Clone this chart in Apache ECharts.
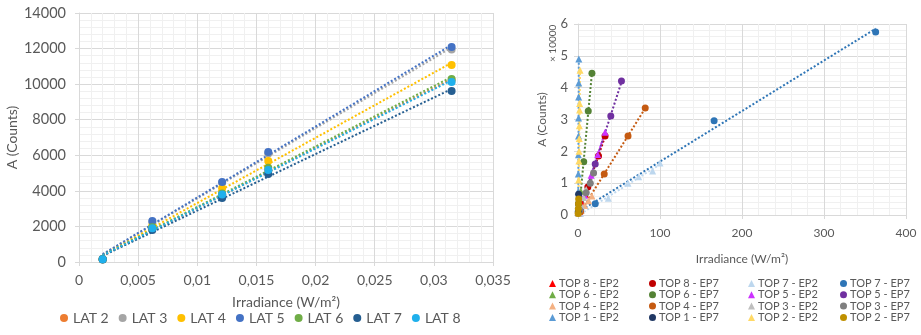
<!DOCTYPE html>
<html>
<head>
<meta charset="UTF-8">
<title>Irradiance vs counts</title>
<script src="https://cdn.jsdelivr.net/npm/echarts@6/dist/echarts.min.js"></script>
<style>
  html, body { margin: 0; padding: 0; background: #fff; }
  #main { width: 921px; height: 335px; }
</style>
</head>
<body>
<div id="main"></div>
<script>
// ---- left chart data (LAT sensors) ----
var latIrr = [0.002, 0.0062, 0.0121, 0.016, 0.0315];
var latNames = ['LAT 2', 'LAT 3', 'LAT 4', 'LAT 5', 'LAT 6', 'LAT 7', 'LAT 8'];
var latColors = ['#ed7d31', '#a5a5a5', '#ffc000', '#4472c4', '#70ad47', '#255e91', '#1fb0ec'];
var lat2 = [150, 1900, 3800, 5150, 10200];
var lat3 = [160, 2250, 4450, 6100, 11950];
var lat4 = [150, 2050, 4150, 5680, 11080];
var lat5 = [170, 2300, 4500, 6185, 12090];
var lat6 = [150, 1950, 3850, 5300, 10290];
var lat7 = [140, 1800, 3600, 4950, 9620];
var lat8 = [150, 1900, 3800, 5170, 10120];
var latValues = [lat2, lat3, lat4, lat5, lat6, lat7, lat8];

// ---- right chart data (TOP sensors), x in W/m2, y in counts x 10000 ----
var top8ep2 = [[2, 0.1], [5, 0.35], [9, 0.65]];
var top8ep7 = [[2, 0.15], [12, 0.88], [25, 1.85], [33, 2.48]];
var top7ep2 = [[3, 0.05], [37, 0.53], [61, 1.0], [74, 1.2], [91, 1.38], [100, 1.63]];
var top7ep7 = [[1, 0.05], [21, 0.35], [166, 2.96], [363, 5.75]];
var top6ep2 = [[0.5, 0.1], [1.5, 0.35], [2.5, 0.6], [3.5, 0.75]];
var top6ep7 = [[1, 0.1], [7, 1.67], [12.5, 3.27], [17, 4.45]];
var top5ep2 = [[1, 0.08], [8, 0.62], [16, 1.25], [24, 1.9], [33, 2.6]];
var top5ep7 = [[2, 0.15], [21, 1.6], [40, 3.11], [53, 4.21]];
var top4ep2 = [[1, 0.05], [4, 0.15], [8, 0.3], [13, 0.45], [17, 0.6]];
var top4ep7 = [[3, 0.1], [32, 1.29], [61, 2.48], [82, 3.36]];
var top3ep2 = [[1, 0.05], [4, 0.3], [7, 0.55], [10, 0.8]];
var top3ep7 = [[2, 0.15], [10, 0.7], [15, 1.0], [19, 1.32]];
var top1ep2 = [[0.2, 0.3], [0.3, 0.75], [0.4, 1.29], [0.5, 1.89], [0.6, 2.48], [0.7, 3.05], [0.8, 3.71], [0.9, 4.15], [1.0, 4.9]];
var top1ep7 = [[0.3, 0.1], [0.6, 0.35], [0.8, 0.65]];
var top2ep2 = [[0.5, 0.3], [0.8, 1.1], [1.1, 1.7], [1.3, 2.0], [1.5, 2.4], [1.7, 2.8], [1.9, 3.3], [2.0, 3.5], [2.5, 4.55]];
var top2ep7 = [[0.2, 0.05], [0.4, 0.2], [0.6, 0.35], [0.8, 0.5]];

var topSeries = [
  { name: 'TOP 8 - EP2', data: top8ep2, color: '#ff0000', shape: 'triangle' },
  { name: 'TOP 8 - EP7', data: top8ep7, color: '#c00000', shape: 'circle' },
  { name: 'TOP 7 - EP2', data: top7ep2, color: '#bdd7ee', shape: 'triangle' },
  { name: 'TOP 7 - EP7', data: top7ep7, color: '#2e75b6', shape: 'circle' },
  { name: 'TOP 6 - EP2', data: top6ep2, color: '#70ad47', shape: 'triangle' },
  { name: 'TOP 6 - EP7', data: top6ep7, color: '#548235', shape: 'circle' },
  { name: 'TOP 5 - EP2', data: top5ep2, color: '#cc33ff', shape: 'triangle' },
  { name: 'TOP 5 - EP7', data: top5ep7, color: '#7030a0', shape: 'circle' },
  { name: 'TOP 4 - EP2', data: top4ep2, color: '#f4b183', shape: 'triangle' },
  { name: 'TOP 4 - EP7', data: top4ep7, color: '#c55a11', shape: 'circle' },
  { name: 'TOP 3 - EP2', data: top3ep2, color: '#bfbfbf', shape: 'triangle' },
  { name: 'TOP 3 - EP7', data: top3ep7, color: '#7f7f7f', shape: 'circle' },
  { name: 'TOP 1 - EP2', data: top1ep2, color: '#5b9bd5', shape: 'triangle' },
  { name: 'TOP 1 - EP7', data: top1ep7, color: '#203864', shape: 'circle' },
  { name: 'TOP 2 - EP2', data: top2ep2, color: '#ffd966', shape: 'triangle' },
  { name: 'TOP 2 - EP7', data: top2ep7, color: '#bf9000', shape: 'circle' }
];

var FONT = 'Lato';
var TXT = '#595959';

// linear trendline (least squares) over the data range
function trend(pts) {
  var n = pts.length, sx = 0, sy = 0, sxx = 0, sxy = 0, xmin = Infinity, xmax = -Infinity;
  pts.forEach(function (p) {
    sx += p[0]; sy += p[1]; sxx += p[0] * p[0]; sxy += p[0] * p[1];
    xmin = Math.min(xmin, p[0]); xmax = Math.max(xmax, p[0]);
  });
  var b = (n * sxy - sx * sy) / (n * sxx - sx * sx);
  var a = (sy - b * sx) / n;
  return [[xmin, a + b * xmin], [xmax, a + b * xmax]];
}

function valueAxis(grid, opt) {
  var ax = {
    type: 'value',
    gridIndex: grid,
    axisLine: { show: true, lineStyle: { color: '#d9d9d9' } },
    axisTick: { show: true, length: 4, lineStyle: { color: '#d9d9d9' } },
    splitLine: { show: true, lineStyle: { color: '#d9d9d9', width: 1 } },
    minorTick: { show: false, splitNumber: 5 },
    minorSplitLine: { show: true, lineStyle: { color: '#f0f0f0', width: 1 } },
    axisLabel: { color: TXT, fontFamily: FONT },
    nameLocation: 'middle',
    nameTextStyle: { color: TXT, fontFamily: FONT }
  };
  for (var k in opt) ax[k] = opt[k];
  return ax;
}

var series = [];
latNames.forEach(function (nm, i) {
  var pts = latIrr.map(function (x, j) { return [x, latValues[i][j]]; });
  series.push({
    name: nm + ' trend', type: 'line', xAxisIndex: 0, yAxisIndex: 0,
    data: trend(pts), symbol: 'none', silent: true, z: 1,
    lineStyle: { color: latColors[i], width: 2, type: [2, 2] }
  });
});
latNames.forEach(function (nm, i) {
  series.push({
    name: nm, type: 'scatter', xAxisIndex: 0, yAxisIndex: 0,
    data: latIrr.map(function (x, j) { return [x, latValues[i][j]]; }),
    symbolSize: 8, itemStyle: { color: latColors[i], opacity: 1 }, z: 3
  });
});
topSeries.forEach(function (s) {
  series.push({
    name: s.name + ' trend', type: 'line', xAxisIndex: 1, yAxisIndex: 1,
    data: trend(s.data), symbol: 'none', silent: true, z: 1,
    lineStyle: { color: s.color, width: 2, type: [2, 2] }
  });
});
topSeries.forEach(function (s) {
  series.push({
    name: s.name, type: 'scatter', xAxisIndex: 1, yAxisIndex: 1,
    data: s.data, symbol: s.shape, symbolSize: 7,
    itemStyle: { color: s.color, opacity: 1 }, z: 3
  });
});

// right legend: 4 columns, row-major order
var colLefts = [549, 649, 748, 840];
var rightLegends = colLefts.map(function (lx, c) {
  var items = [];
  for (var r = 0; r < 4; r++) {
    var s = topSeries[r * 4 + c];
    items.push({ name: s.name, icon: s.shape });
  }
  return {
    orient: 'vertical', left: lx, top: 278, height: 56, padding: 0,
    itemWidth: 7, itemHeight: 7, itemGap: 0.3,
    textStyle: { color: TXT, fontFamily: FONT, fontSize: 11, lineHeight: 11, padding: [0, 0, 0, -2] },
    data: items, selectedMode: false
  };
});

var chart = echarts.init(document.getElementById('main'));
chart.setOption({
  animation: false,
  backgroundColor: '#fff',
  textStyle: { fontFamily: FONT },
  grid: [
    { left: 79, top: 13, width: 414, height: 249 },
    { left: 578, top: 24, width: 328, height: 191 }
  ],
  xAxis: [
    valueAxis(0, {
      min: 0, max: 0.035, interval: 0.005,
      name: 'Irradiance (W/m²)', nameGap: 33, nameTextStyle: { color: TXT, fontFamily: FONT, fontSize: 14 },
      axisLabel: {
        color: TXT, fontFamily: FONT, fontSize: 14, margin: 11,
        formatter: function (v) { return String(+v.toFixed(3)).replace('.', ','); }
      }
    }),
    valueAxis(1, {
      min: 0, max: 400, interval: 100,
      name: 'Irradiance (W/m²)', nameGap: 38, nameTextStyle: { color: TXT, fontFamily: FONT, fontSize: 12 },
      axisLabel: { color: TXT, fontFamily: FONT, fontSize: 12, margin: 12 }
    })
  ],
  yAxis: [
    valueAxis(0, {
      min: 0, max: 14000, interval: 2000,
      name: 'A (Counts)', nameGap: 60, nameTextStyle: { color: TXT, fontFamily: FONT, fontSize: 14 },
      axisLabel: {
        color: TXT, fontFamily: FONT, fontSize: 14.5, margin: 13,
        formatter: function (v) { return String(v); }
      }
    }),
    valueAxis(1, {
      min: 0, max: 6, interval: 1,
      name: 'A (Counts)', nameGap: 30, nameTextStyle: { color: TXT, fontFamily: FONT, fontSize: 12 },
      axisLabel: { color: TXT, fontFamily: FONT, fontSize: 13, margin: 10 }
    })
  ],
  legend: [{
    left: 60, top: 311, itemWidth: 8, itemHeight: 8, itemGap: 10, icon: 'circle', padding: 0,
    textStyle: { color: TXT, fontFamily: FONT, fontSize: 14 },
    data: latNames, selectedMode: false
  }].concat(rightLegends),
  graphic: [{
    type: 'text', x: 548, y: 62, rotation: Math.PI / 2,
    style: { text: '× 10000', fill: TXT, font: '10px ' + FONT }
  }],
  series: series
});
</script>
</body>
</html>
